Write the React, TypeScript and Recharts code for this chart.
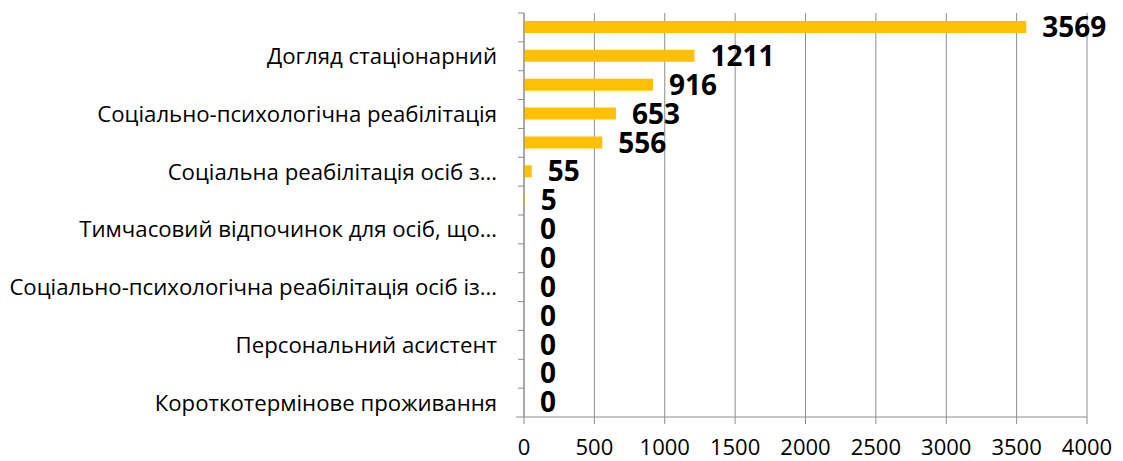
import { Bar, BarChart, CartesianGrid, LabelList, XAxis, YAxis } from "recharts";

// hidden labels (Excel skipped every other one) are left blank
const categories = [
    "",
    "Догляд стаціонарний",
    "",
    "Соціально-психологічна реабілітація",
    "",
    "Соціальна реабілітація осіб з…",
    "",
    "Тимчасовий відпочинок для осіб, що…",
    "",
    "Соціально-психологічна реабілітація осіб із…",
    "",
    "Персональний асистент",
    "",
    "Короткотермінове проживання",
];
const values = [3569, 1211, 916, 653, 556, 55, 5, 0, 0, 0, 0, 0, 0, 0];
const xTicks = [0, 500, 1000, 1500, 2000, 2500, 3000, 3500, 4000];

const data = categories.map((name, i) => ({ id: i, name, value: values[i] }));

const FONT = "'Open Sans', sans-serif";
const GRID = "#8c8c8c";
const W = 1123;
const H = 461;
const TOP = 13;
const X_AXIS_H = 44;
const ROW = (H - TOP - X_AXIS_H) / categories.length;

function CategoryTick(props: any) {
    const { x, y, payload, index } = props;
    const label = categories[payload.value] ?? "";
    const last = index === categories.length - 1;
    return (
        <g>
            <line x1={x - 6} x2={x} y1={y - ROW / 2} y2={y - ROW / 2} stroke={GRID} />
            {last && (
                <line x1={x - 8} x2={x} y1={y + ROW / 2} y2={y + ROW / 2} stroke={GRID} />
            )}
            {label && (
                <text
                    x={x - 27}
                    y={y}
                    dy="0.36em"
                    textAnchor="end"
                    fontSize={22.2}
                    fontFamily={FONT}
                    fill="#000"
                >
                    {label}
                </text>
            )}
        </g>
    );
}

function ValueLabel(props: any) {
    const { x, y, width, height, value } = props;
    return (
        <text
            x={x + width + 16}
            y={y + height / 2}
            dy="0.36em"
            fontSize={28}
            fontWeight="bold"
            fontFamily={FONT}
            fill="#000"
        >
            {value}
        </text>
    );
}

export default function App() {
    return (
        <div style={{ position: "absolute", left: 0, top: 0, width: W, height: H }}>
            <BarChart
                width={W}
                height={H}
                data={data}
                layout="vertical"
                margin={{ top: TOP, right: 36, left: 0, bottom: 0 }}
                barSize={12}
            >
                <CartesianGrid stroke={GRID} horizontal={false} />
                <XAxis
                    type="number"
                    domain={[0, 4000]}
                    ticks={xTicks}
                    height={X_AXIS_H}
                    stroke={GRID}
                    tickSize={7}
                    tickMargin={15}
                    tickLine={{ stroke: GRID }}
                    tick={{ fontSize: 22, fill: "#000", fontFamily: FONT }}
                />
                <YAxis
                    type="category"
                    dataKey="id"
                    width={524}
                    interval={0}
                    stroke={GRID}
                    tickLine={false}
                    tickSize={0}
                    tickMargin={0}
                    tick={<CategoryTick />}
                />
                <Bar
                    dataKey="value"
                    fill="#FFC000"
                    minPointSize={0.01}
                    isAnimationActive={false}
                >
                    <LabelList dataKey="value" content={<ValueLabel />} />
                </Bar>
            </BarChart>
        </div>
    );
}
